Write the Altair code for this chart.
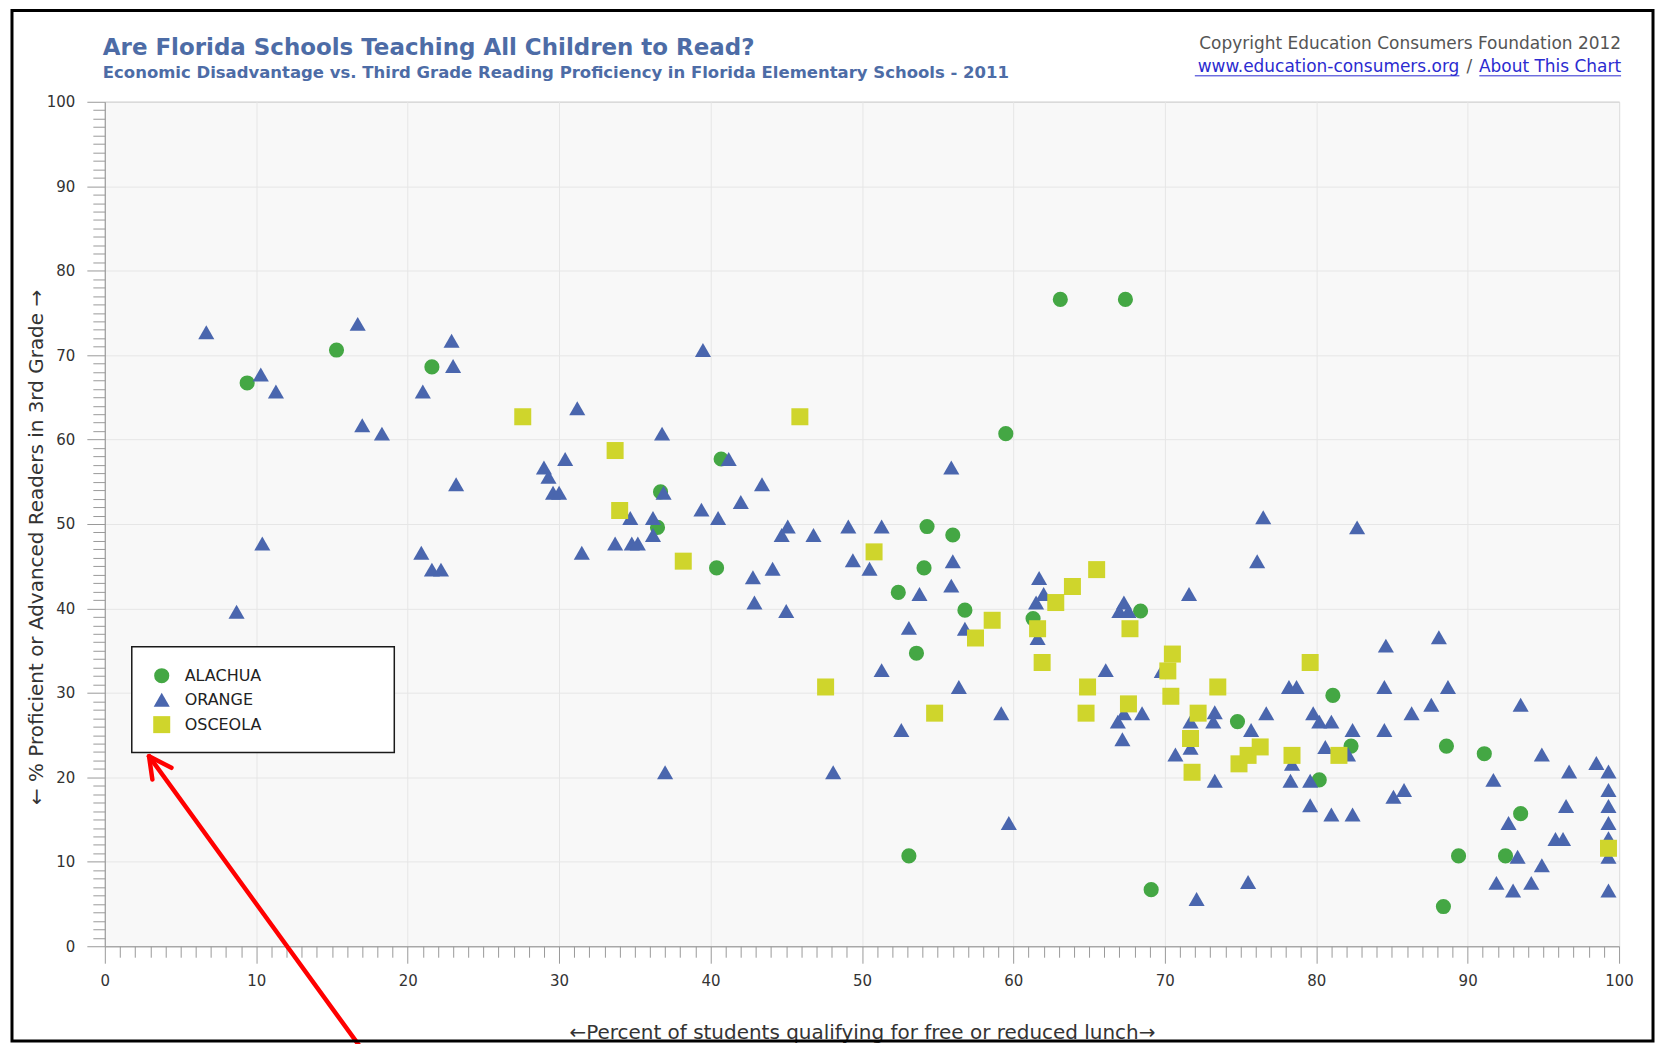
import altair as alt
import pandas as pd

# ---------------- data ----------------
COUNTIES = ["ALACHUA", "ORANGE", "OSCEOLA"]
COUNTY_COLORS = ["#44a744", "#4a66ae", "#cfd52c"]
COUNTY_SHAPES = ["circle", "triangle-up", "square"]
COUNTY_SIZES = [230, 290, 160]

ALACHUA_LUNCH = [9.4, 15.3, 21.6, 40.7, 36.7, 36.5, 40.4, 54.3, 54.1, 52.4,
                 53.6, 53.1, 63.1, 67.4, 59.5, 56.0, 56.8, 61.3, 68.4, 81.1,
                 74.8, 80.2, 82.3, 88.6, 91.1, 93.5, 89.4, 92.5, 88.4, 69.1]
ALACHUA_READING = [66.7, 70.6, 68.6, 57.7, 53.8, 49.6, 44.8, 49.7, 44.8, 41.9,
                   34.7, 10.7, 76.6, 76.6, 60.7, 48.7, 39.8, 38.8, 39.7, 29.7,
                   26.6, 19.7, 23.7, 23.7, 22.8, 15.7, 10.7, 10.7, 4.7, 6.7]

ORANGE_LUNCH = [6.7, 16.7, 22.9, 23.0, 10.3, 11.3, 21.0, 17.0, 18.3, 23.2,
                10.4, 20.9, 21.6, 22.2, 8.7, 39.5, 31.2, 36.8, 41.2, 30.4,
                29.0, 29.3, 43.4, 29.6, 30.0, 36.9, 42.0, 39.4, 34.7, 36.2,
                40.5, 36.2, 45.1, 44.7, 46.8, 49.1, 51.3, 33.7, 34.8, 35.2,
                31.5, 44.1, 42.8, 49.4, 50.5, 53.8, 42.9, 45.0, 53.1, 51.3,
                52.6, 37.0, 48.1, 55.9, 76.5, 76.1, 56.0, 55.9, 61.7, 62.0,
                61.5, 67.3, 67.0, 67.6, 56.8, 61.6, 66.1, 69.8, 56.4, 59.2,
                67.3, 68.5, 66.9, 67.2, 71.7, 73.3, 73.2, 76.7, 75.7, 79.8,
                80.2, 81.0, 71.7, 70.7, 73.3, 78.4, 78.3, 79.6, 80.6, 79.6,
                81.0, 59.7, 72.1, 75.5, 71.6, 78.2, 78.7, 82.7, 84.6, 88.1,
                84.5, 88.7, 87.6, 86.3, 93.5, 82.4, 84.5, 82.1, 94.9, 98.5,
                96.7, 99.3, 91.7, 85.1, 85.8, 82.4, 99.3, 99.3, 96.5, 92.7,
                99.3, 95.8, 96.3, 99.3, 99.3, 93.3, 94.9, 91.9, 94.2, 93.0,
                99.3]
ORANGE_READING = [72.7, 73.7, 71.7, 68.7, 67.7, 65.7, 65.7, 61.7, 60.7, 54.7,
                  47.7, 46.6, 44.6, 44.6, 39.6, 70.6, 63.7, 60.7, 57.7, 57.7,
                  56.7, 55.6, 54.7, 53.7, 53.7, 53.7, 52.6, 51.7, 50.7, 50.7,
                  50.7, 48.7, 49.7, 48.7, 48.7, 49.7, 49.7, 47.7, 47.7, 47.7,
                  46.6, 44.7, 43.7, 45.7, 44.7, 41.7, 40.7, 39.7, 37.7, 32.7,
                  25.6, 20.6, 20.6, 56.7, 50.8, 45.6, 45.6, 42.7, 43.6, 41.7,
                  40.7, 40.7, 39.7, 39.7, 37.6, 36.5, 32.7, 32.6, 30.7, 27.6,
                  27.6, 27.6, 26.6, 24.5, 26.6, 27.7, 26.6, 27.6, 25.6, 27.6,
                  26.6, 26.6, 23.5, 22.7, 19.6, 21.6, 19.6, 19.6, 23.6, 16.7,
                  15.6, 14.6, 5.6, 7.6, 41.7, 30.7, 30.7, 49.6, 35.6, 36.6,
                  30.7, 30.7, 28.6, 27.6, 28.6, 25.6, 25.6, 22.7, 22.7, 21.7,
                  20.7, 20.7, 19.7, 17.7, 18.5, 15.6, 18.5, 16.6, 16.6, 14.6,
                  14.6, 12.7, 12.7, 12.8, 10.6, 10.6, 9.6, 7.5, 7.5, 6.6,
                  6.6]

OSCEOLA_LUNCH = [27.6, 45.9, 33.7, 34.0, 38.2, 50.8, 47.6, 54.8, 65.5, 63.9,
                 62.8, 58.6, 57.5, 61.6, 67.7, 61.9, 70.5, 70.2, 79.6, 64.9,
                 73.5, 70.4, 64.8, 67.6, 72.2, 71.7, 71.8, 74.9, 75.5, 76.3,
                 78.4, 81.5, 99.3]
OSCEOLA_READING = [62.7, 62.7, 58.7, 51.6, 45.6, 46.7, 30.7, 27.6, 44.6, 42.6,
                   40.7, 38.6, 36.5, 37.6, 37.6, 33.6, 34.6, 32.6, 33.6, 30.7,
                   30.7, 29.6, 27.6, 28.7, 27.6, 24.6, 20.6, 21.6, 22.6, 23.6,
                   22.6, 22.6, 11.6]

X_TICKS = list(range(0, 101))
Y_TICKS = list(range(0, 101))

# red hand-drawn annotation arrow, in data units (tip at the legend corner)
ARROW_X1 = [2.92, 2.92, 2.92]
ARROW_Y1 = [22.5, 22.5, 22.5]
ARROW_X2 = [17.3, 4.40, 3.14]
ARROW_Y2 = [-13.0, 21.13, 19.74]

TITLE = "Are Florida Schools Teaching All Children to Read?"
SUBTITLE = ("Economic Disadvantage vs. Third Grade Reading Proficiency in "
            "Florida Elementary Schools - 2011")
COPYRIGHT = "Copyright Education Consumers Foundation 2012"
LINK1 = "www.education-consumers.org"
LINK2 = "About This Chart"
X_TITLE = "\u2190Percent of students qualifying for free or reduced lunch\u2192"
Y_TITLE = "\u2190 % Proficient or Advanced Readers in 3rd Grade \u2192"

# ---------------- build table ----------------
rows = []
for county, xs_, ys_ in [("ALACHUA", ALACHUA_LUNCH, ALACHUA_READING),
                         ("ORANGE", ORANGE_LUNCH, ORANGE_READING),
                         ("OSCEOLA", OSCEOLA_LUNCH, OSCEOLA_READING)]:
    for a, b in zip(xs_, ys_):
        rows.append({"county": county, "lunch": a, "reading": b})
df = pd.DataFrame(rows)

arrow_df = pd.DataFrame({"x1": ARROW_X1, "y1": ARROW_Y1,
                         "x2": ARROW_X2, "y2": ARROW_Y2})

FONT = "DejaVu Sans"
TITLE_BLUE = "#4d6ca6"
LINK_BLUE = "#2b2bd0"
MAJOR = "datum.value % 10 === 0"

xscale = alt.Scale(domain=[0, 100], nice=False, zero=False)
yscale = alt.Scale(domain=[0, 100], nice=False, zero=False)

x_axis = alt.Axis(
    values=X_TICKS, title=X_TITLE,
    labelExpr=f"{MAJOR} ? datum.label : ''",
    labelOverlap=False, labelFlush=False,
    labelFont=FONT, labelFontSize=15, labelColor="#333", labelPadding=10,
    tickSize={"condition": {"test": MAJOR, "value": 17}, "value": 11},
    tickColor="#9a9a9a", tickWidth=1,
    domainColor="#999999", domainWidth=1,
    grid=True, gridColor="#e6e6e6",
    gridOpacity={"condition": {"test": MAJOR, "value": 1}, "value": 0},
    titleFont=FONT, titleFontSize=20, titleFontWeight="normal", titleColor="#333",
    titleY=92, titleBaseline="alphabetic",
)
y_axis = alt.Axis(
    values=Y_TICKS, title=Y_TITLE,
    labelExpr=f"{MAJOR} ? datum.label : ''",
    labelOverlap=False, labelFlush=False,
    labelFont=FONT, labelFontSize=15, labelColor="#333", labelPadding=12,
    tickSize={"condition": {"test": MAJOR, "value": 18}, "value": 12},
    tickColor="#9a9a9a", tickWidth=1,
    domainColor="#999999", domainWidth=1,
    grid=True, gridColor="#e6e6e6",
    gridOpacity={"condition": {"test": MAJOR, "value": 1}, "value": 0},
    titleFont=FONT, titleFontSize=20, titleFontWeight="normal", titleColor="#333",
    titleX=-68, titleY=446, titleBaseline="middle",
)

legend = alt.Legend(
    title=None, orient="none", legendX=27, legendY=546, direction="vertical",
    padding=21, rowPadding=7.5, zindex=2,
    symbolSize=210, symbolStrokeWidth=0, symbolOpacity=1,
    labelFont=FONT, labelFontSize=16, labelColor="#222", labelOffset=14,
)

points = alt.Chart(df).mark_point(filled=True, opacity=1, strokeWidth=0).encode(
    x=alt.X("lunch:Q", scale=xscale, axis=x_axis),
    y=alt.Y("reading:Q", scale=yscale, axis=y_axis),
    color=alt.Color("county:N", scale=alt.Scale(domain=COUNTIES, range=COUNTY_COLORS), legend=legend),
    shape=alt.Shape("county:N", scale=alt.Scale(domain=COUNTIES, range=COUNTY_SHAPES), legend=legend),
    size=alt.Size("county:N", scale=alt.Scale(domain=COUNTIES, range=COUNTY_SIZES), legend=None),
)

arrow = alt.Chart(arrow_df).mark_rule(color="#ff0000", strokeWidth=4.5, strokeCap="round").encode(
    x=alt.X("x1:Q", scale=xscale, axis=x_axis),
    y=alt.Y("y1:Q", scale=yscale, axis=y_axis),
    x2="x2:Q", y2="y2:Q",
)


def one_row():
    return pd.DataFrame({"k": [0]})


def text_layer(txt, x, y, **kw):
    return alt.Chart(pd.DataFrame({"t": [txt]})).mark_text(font=FONT, **kw).encode(
        x=alt.value(x), y=alt.value(y), text="t:N")


def hline(x1, x2, y, color):
    return alt.Chart(one_row()).mark_rule(color=color, strokeWidth=1).encode(
        x=alt.value(x1), x2=alt.value(x2), y=alt.value(y))


# white box behind the legend entries
legend_box = alt.Chart(one_row()).mark_rect(
    fill="white", stroke="#1a1a1a", strokeWidth=1.5).encode(
    x=alt.value(27), x2=alt.value(290), y=alt.value(546), y2=alt.value(652))

header = [
    text_layer(TITLE, -2, -47, align="left", baseline="alphabetic", fontSize=23,
               fontWeight="bold", color=TITLE_BLUE),
    text_layer(SUBTITLE, -2, -23.5, align="left", baseline="alphabetic", fontSize=16.5,
               fontWeight="bold", color=TITLE_BLUE),
    text_layer(COPYRIGHT, 1519, -58, align="right", baseline="middle", fontSize=17, color="#555555"),
    text_layer(LINK2, 1519, -35, align="right", baseline="middle", fontSize=17, color=LINK_BLUE),
    text_layer("/", 1367, -35, align="center", baseline="middle", fontSize=17, color="#555555"),
    text_layer(LINK1, 1357, -35, align="right", baseline="middle", fontSize=17, color=LINK_BLUE),
    hline(1092, 1357, -26, LINK_BLUE),
    hline(1377, 1519, -26, LINK_BLUE),
]

frame = alt.Chart(one_row()).mark_rect(
    fillOpacity=0, stroke="black", strokeWidth=3).encode(
    x=alt.value(-93), x2=alt.value(1551), y=alt.value(-91.5), y2=alt.value(941))

chart = alt.layer(points, legend_box, arrow, *header, frame).properties(
    width=1517, height=846,
    padding={"left": 97, "top": 93, "right": 38, "bottom": 97},
    autosize=alt.AutoSizeParams(type="none"),
    background="white",
).configure_view(fill="#f8f8f8", stroke="#9c9c9c", strokeWidth=1)

chart.save("out.html", embed_options={"renderer": "svg", "actions": False})
